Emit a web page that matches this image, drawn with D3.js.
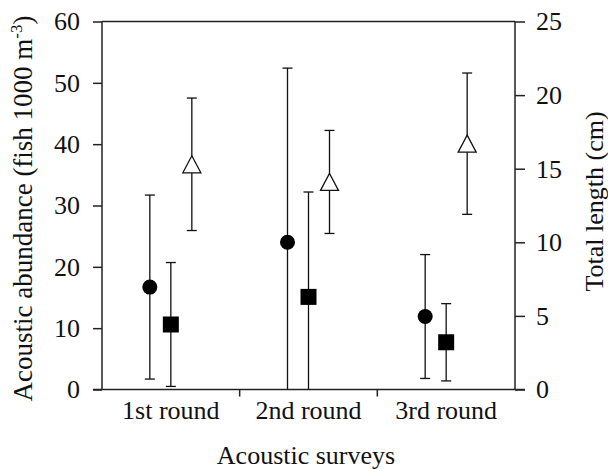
<!DOCTYPE html>
<html>
<head>
<meta charset="utf-8">
<script src="https://cdn.jsdelivr.net/npm/d3@7"></script>
<style>
  body { margin: 0; background: #fff; }
  text { font-family: "Liberation Serif", "Times New Roman", serif; fill: #111; }
</style>
</head>
<body>
<div id="chart"></div>
<script>
const rounds = ["1st round", "2nd round", "3rd round"];
// acoustic abundance (left axis)
const circleMean = [16.7, 24.0, 11.9];
const circleSd = [15.0, 28.4, 10.1];
const squareMean = [10.6, 15.1, 7.7];
const squareSd = [10.1, 17.1, 6.3];
// total length (right axis)
const triMean = [15.3, 14.1, 16.7];
const triSd = [4.5, 3.5, 4.8];
const leftTicks = [0, 10, 20, 30, 40, 50, 60];
const rightTicks = [0, 5, 10, 15, 20, 25];

const width = 608, height = 469;
const margin = { top: 21.5, right: 93, bottom: 79.5, left: 102 };
const iw = width - margin.left - margin.right;
const ih = height - margin.top - margin.bottom;

const svg = d3.select("#chart").append("svg")
  .attr("width", width)
  .attr("height", height);

const g = svg.append("g")
  .attr("transform", `translate(${margin.left},${margin.top})`);

const x = d3.scaleBand().domain(rounds).range([0, iw]);
const offset = d3.scalePoint().domain(["c", "s", "t"]).range([-21, 21]);
const yL = d3.scaleLinear().domain([0, 60]).range([ih, 0]);
const yR = d3.scaleLinear().domain([0, 25]).range([ih, 0]);

const axisColor = "#222";

// top frame line
g.append("line")
  .attr("x1", 0).attr("x2", iw).attr("y1", 0).attr("y2", 0)
  .attr("stroke", axisColor).attr("stroke-width", 1.5);

// left axis
const left = g.append("g")
  .call(d3.axisLeft(yL).tickValues(leftTicks).tickSize(9).tickPadding(13));
// right axis
const right = g.append("g")
  .attr("transform", `translate(${iw},0)`)
  .call(d3.axisRight(yR).tickValues(rightTicks).tickSize(10).tickPadding(11));
// bottom axis: ticks at band boundaries
const bottom = g.append("g")
  .attr("transform", `translate(0,${ih})`)
  .call(d3.axisBottom(x).tickSize(0).tickPadding(11));

[left, right, bottom].forEach(a => {
  a.select(".domain").attr("stroke", axisColor).attr("stroke-width", 1.5);
  a.selectAll(".tick line").attr("stroke", axisColor).attr("stroke-width", 1.5);
  a.selectAll(".tick text")
    .style("font-family", '"Liberation Serif", serif')
    .style("font-size", "26px")
    .attr("fill", "#111");
});
left.select(".domain").attr("d", `M0,${ih}V0`);
right.select(".domain").attr("d", `M0,${ih}V0`);
// bottom axis line extends under the 0 ticks
bottom.select(".domain").attr("d", `M-9,0H${iw + 10}`);

// category boundary ticks
g.append("g").selectAll("line")
  .data(rounds.slice(1))
  .join("line")
  .attr("x1", d => x(d)).attr("x2", d => x(d))
  .attr("y1", ih).attr("y2", ih + 7)
  .attr("stroke", axisColor).attr("stroke-width", 1.5);

// error bars helper
function errorBars(means, sds, key, yScale) {
  const data = rounds.map((r, i) => ({ r, m: means[i], sd: sds[i] }));
  const cx = d => x(d.r) + x.bandwidth() / 2 + offset(key);
  const grp = g.append("g").attr("stroke", "#111").attr("stroke-width", 1.3);
  grp.selectAll(".v").data(data).join("line")
    .attr("x1", cx).attr("x2", cx)
    .attr("y1", d => yScale(d.m + d.sd))
    .attr("y2", d => yScale(Math.max(0, d.m - d.sd)));
  const caps = [];
  data.forEach(d => {
    caps.push({ d, v: d.m + d.sd });
    if (d.m - d.sd > 0) caps.push({ d, v: d.m - d.sd });
  });
  grp.selectAll(".cap").data(caps).join("line")
    .attr("x1", c => cx(c.d) - 5).attr("x2", c => cx(c.d) + 5)
    .attr("y1", c => yScale(c.v)).attr("y2", c => yScale(c.v));
  return { data, cx };
}

const circ = errorBars(circleMean, circleSd, "c", yL);
g.append("g").selectAll("circle").data(circ.data).join("circle")
  .attr("cx", circ.cx)
  .attr("cy", d => yL(d.m))
  .attr("r", 7.5)
  .attr("fill", "#000");

const sq = errorBars(squareMean, squareSd, "s", yL);
g.append("g").selectAll("rect").data(sq.data).join("rect")
  .attr("x", d => sq.cx(d) - 8)
  .attr("y", d => yL(d.m) - 8)
  .attr("width", 16).attr("height", 16)
  .attr("fill", "#000");

const tri = errorBars(triMean, triSd, "t", yR);
g.append("g").selectAll("path").data(tri.data).join("path")
  .attr("transform", d => `translate(${tri.cx(d)},${yR(d.m)})`)
  .attr("d", "M0,-8.5L9,8.5L-9,8.5Z")
  .attr("fill", "#fff")
  .attr("stroke", "#111")
  .attr("stroke-width", 1.3);

// axis titles
svg.append("text")
  .attr("transform", `translate(32,${margin.top + ih / 2 + 3}) rotate(-90)`)
  .attr("text-anchor", "middle")
  .style("font-size", "27px")
  .html('Acoustic abundance (fish 1000 m<tspan dy="-10" font-size="17">-3</tspan><tspan dy="10">)</tspan>');

svg.append("text")
  .attr("transform", `translate(603,${margin.top + ih / 2 - 4}) rotate(-90)`)
  .attr("text-anchor", "middle")
  .style("font-size", "26px")
  .text("Total length (cm)");

svg.append("text")
  .attr("x", 306)
  .attr("y", 464)
  .attr("text-anchor", "middle")
  .style("font-size", "26px")
  .text("Acoustic surveys");
</script>
</body>
</html>
